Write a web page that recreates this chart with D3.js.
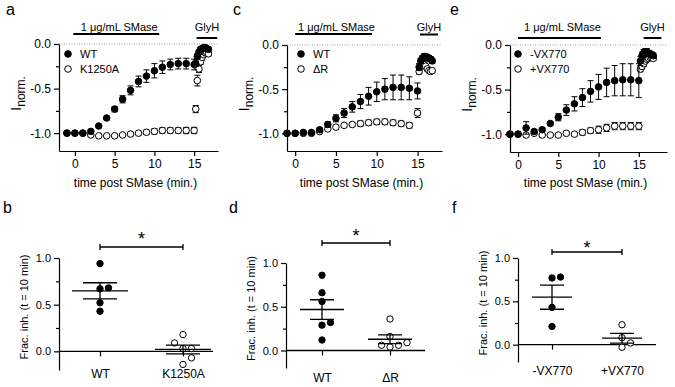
<!DOCTYPE html>
<html>
<head>
<meta charset="utf-8">
<script src="https://cdn.jsdelivr.net/npm/d3@7.9.0/dist/d3.min.js"></script>
<style>
  body { margin: 0; background: #fff; }
  svg { display: block; font-family: "Liberation Sans", Arial, sans-serif; }
</style>
</head>
<body>
<svg id="fig" width="675" height="387"></svg>
<script>
// ---- time course data (normalised current), one value per minute ----
const minutes = [-1, 0, 1, 2, 3, 4, 5, 6, 7, 8, 9, 10, 11, 12, 13, 14, 15];
const glyhMinutes = [15.2, 15.4, 15.6, 15.8, 16.0, 16.2, 16.4, 16.6, 16.8];
const timeTicks = [0, 5, 10, 15];
const currentTicks = [0, -0.5, -1];
const currentMinor = [-0.25, -0.75];

// panel a
const wtA = [-1.0, -1.0, -1.0, -0.98, -0.92, -0.83, -0.73, -0.62, -0.52, -0.42, -0.36, -0.3, -0.26, -0.23, -0.22, -0.22, -0.23];
const wtAErr = [0.01, 0.01, 0.01, 0.01, 0.01, 0.015, 0.03, 0.04, 0.05, 0.06, 0.07, 0.08, 0.07, 0.06, 0.06, 0.06, 0.06];
const wtAGlyh = [-0.22, -0.14, -0.09, -0.06, -0.05, -0.04, -0.04, -0.05, -0.06];
const wtAGlyhErr = [0.03, 0.03, 0.02, 0.02, 0.02, 0.02, 0.02, 0.02, 0.02];
const k1250A = [-1.0, -1.0, -1.0, -1.02, -1.03, -1.03, -1.03, -1.02, -1.01, -1.0, -0.99, -0.98, -0.97, -0.97, -0.97, -0.97, -0.97];
const k1250AErr = [0.01, 0.01, 0.01, 0.01, 0.01, 0.01, 0.01, 0.015, 0.02, 0.02, 0.025, 0.03, 0.03, 0.03, 0.03, 0.035, 0.035];
const k1250AGlyh = [-0.73, -0.41, -0.28, -0.2, -0.15, -0.12, -0.1, -0.1, -0.11];
const k1250AGlyhErr = [0.04, 0.06, 0.04, 0.03, 0.03, 0.02, 0.02, 0.02, 0.02];
const smaseA = [-0.2, 10.6];
const glyhA = [15.3, 17.9];

// panel c
const wtC = [-1.0, -1.0, -0.99, -0.99, -0.96, -0.9, -0.83, -0.77, -0.7, -0.64, -0.58, -0.53, -0.5, -0.48, -0.48, -0.49, -0.52];
const wtCErr = [0.01, 0.01, 0.01, 0.01, 0.02, 0.03, 0.04, 0.05, 0.06, 0.08, 0.1, 0.11, 0.12, 0.14, 0.14, 0.13, 0.09];
const wtCGlyh = [-0.25, -0.18, -0.15, -0.13, -0.13, -0.14, -0.15, -0.16, -0.18];
const wtCGlyhErr = [0.04, 0.03, 0.03, 0.03, 0.03, 0.03, 0.03, 0.03, 0.03];
const deltaR = [-1.0, -1.0, -1.0, -1.0, -0.98, -0.95, -0.93, -0.91, -0.9, -0.89, -0.88, -0.87, -0.87, -0.88, -0.89, -0.91, -0.77];
const deltaRErr = [0.01, 0.01, 0.01, 0.01, 0.01, 0.02, 0.02, 0.02, 0.02, 0.03, 0.03, 0.03, 0.03, 0.03, 0.03, 0.03, 0.05];
const deltaRGlyh = [-0.3, -0.24, -0.21, -0.22, -0.24, -0.27, -0.29, -0.3, -0.29];
const deltaRGlyhErr = [0.03, 0.03, 0.02, 0.02, 0.02, 0.02, 0.02, 0.02, 0.02];
const smaseC = [0, 9.4];
const glyhC = [15.3, 17.5];

// panel e
const minusVX = [-1.0, -1.0, -0.93, -0.97, -0.95, -0.88, -0.81, -0.73, -0.66, -0.59, -0.52, -0.47, -0.42, -0.4, -0.39, -0.39, -0.4];
const minusVXErr = [0.01, 0.01, 0.07, 0.02, 0.02, 0.02, 0.04, 0.06, 0.08, 0.1, 0.12, 0.14, 0.16, 0.17, 0.18, 0.18, 0.19];
const minusVXGlyh = [-0.18, -0.12, -0.09, -0.08, -0.08, -0.09, -0.1, -0.11, -0.12];
const minusVXGlyhErr = [0.05, 0.04, 0.04, 0.04, 0.04, 0.03, 0.03, 0.03, 0.03];
const plusVX = [-1.0, -1.0, -1.01, -0.99, -1.01, -1.01, -1.01, -0.99, -1.0, -0.98, -0.96, -0.95, -0.93, -0.91, -0.91, -0.91, -0.91];
const plusVXErr = [0.01, 0.01, 0.01, 0.01, 0.01, 0.01, 0.01, 0.02, 0.02, 0.03, 0.03, 0.04, 0.04, 0.04, 0.04, 0.04, 0.04];
const plusVXGlyh = [-0.27, -0.24, -0.21, -0.18, -0.16, -0.15, -0.14, -0.14, -0.15];
const plusVXGlyhErr = [0.03, 0.03, 0.03, 0.02, 0.02, 0.02, 0.02, 0.02, 0.02];
const smaseE = [0, 10.3];
const glyhE = [15.6, 17.8];

// ---- fractional inhibition at t = 10 min, one value per cell ----
const fracTicks = [0, 0.5, 1];
const fracMinor = [0.25, 0.75];
const fracWT_b = [0.94, 0.68, 0.67, 0.52, 0.43];
const fracK1250A = [0.18, 0.09, 0.03, 0.03, -0.07, -0.14];
const fracWT_d = [0.86, 0.66, 0.56, 0.32, 0.29, 0.12];
const fracDeltaR = [0.36, 0.16, 0.09, 0.06, 0.06, 0.04];
const fracMinusVX = [0.78, 0.77, 0.43, 0.21];
const fracPlusVX = [0.23, 0.08, 0.02, -0.03];

const svg = d3.select("#fig");
const R = 3.3;

function styleAxis(sel, fs) {
  sel.attr("font-family", null).attr("font-size", fs);
  sel.selectAll("path, line").attr("stroke-width", 1.2);
}

function panelLetter(txt, x, y) {
  svg.append("text").attr("x", x).attr("y", y).attr("font-size", 16).text(txt);
}

// time course panels
function drawTimeCourse(p) {
  const g = svg.append("g");
  const x = d3.scaleLinear().domain(p.xDomain).range(p.xRange);
  const y = d3.scaleLinear().domain([-1.2, 0]).range(p.yRange);

  // dotted zero line
  g.append("line")
    .attr("x1", p.xRange[0]).attr("x2", p.xRange[1])
    .attr("y1", y(0)).attr("y2", y(0))
    .attr("stroke", "#a0a0a0").attr("stroke-dasharray", "1,1.5");

  g.append("g")
    .attr("transform", `translate(0,${p.yRange[0]})`)
    .call(d3.axisBottom(x).tickValues(timeTicks).tickSize(5).tickSizeOuter(0).tickPadding(3.5))
    .call((s) => styleAxis(s, 12));

  g.append("g")
    .attr("transform", `translate(${p.xRange[0]},0)`)
    .call(d3.axisLeft(y).tickValues(currentTicks).tickFormat((d) => d.toFixed(1)).tickSize(5).tickSizeOuter(0).tickPadding(3))
    .call((s) => styleAxis(s, 12));

  g.append("g")
    .attr("transform", `translate(${p.xRange[0]},0)`)
    .call(d3.axisLeft(y).tickValues(currentMinor).tickFormat("").tickSize(3).tickSizeOuter(0))
    .call((s) => { s.select(".domain").remove(); styleAxis(s, 12); });

  // axis titles
  g.append("text")
    .attr("x", (p.xRange[0] + p.xRange[1]) / 2 - 3)
    .attr("y", 187)
    .attr("text-anchor", "middle")
    .attr("font-size", 12)
    .text("time post SMase (min.)");

  const yl = g.append("text")
    .attr("transform", `translate(${p.xRange[0] - 38},${(p.yRange[0] + p.yRange[1]) / 2 - 4}) rotate(-90)`)
    .attr("text-anchor", "middle");
  yl.append("tspan").attr("font-size", 15).text("I");
  yl.append("tspan").attr("font-size", 12).attr("dy", 3.5).text("norm.");

  // treatment bars
  g.append("line")
    .attr("x1", x(p.smase[0])).attr("x2", x(p.smase[1]))
    .attr("y1", p.smaseY).attr("y2", p.smaseY)
    .attr("stroke", "#000").attr("stroke-width", 2);
  g.append("text")
    .attr("x", (x(p.smase[0]) + x(p.smase[1])) / 2 + 3)
    .attr("y", 31)
    .attr("text-anchor", "middle")
    .attr("font-size", 11)
    .text("1 μg/mL SMase");
  g.append("line")
    .attr("x1", x(p.glyh[0])).attr("x2", x(p.glyh[1]))
    .attr("y1", p.glyhY).attr("y2", p.glyhY)
    .attr("stroke", "#000").attr("stroke-width", 2);
  g.append("text")
    .attr("x", (x(p.glyh[0]) + x(p.glyh[1])) / 2)
    .attr("y", 31)
    .attr("text-anchor", "middle")
    .attr("font-size", 11)
    .text("GlyH");

  // series: open first, filled on top
  p.series.forEach((s) => {
    const pts = minutes
      .map((t, i) => ({ t, v: s.values[i], e: s.err[i] }))
      .concat(glyhMinutes.map((t, i) => ({ t, v: s.glyh[i], e: s.glyhErr[i] })));
    const sg = g.append("g");
    sg.append("g")
      .attr("stroke", "#000").attr("stroke-width", 1).attr("fill", "none")
      .selectAll("path")
      .data(pts)
      .join("path")
      .attr("d", (d) => {
        const cx = x(d.t), y0 = y(d.v - d.e), y1 = y(d.v + d.e);
        return `M${cx},${y0}V${y1}M${cx - 3},${y0}h6M${cx - 3},${y1}h6`;
      });
    sg.append("g")
      .selectAll("circle")
      .data(pts)
      .join("circle")
      .attr("cx", (d) => x(d.t))
      .attr("cy", (d) => y(d.v))
      .attr("r", R)
      .attr("fill", s.filled ? "#000" : "#fff")
      .attr("stroke", "#000")
      .attr("stroke-width", 1);
  });

  // legend
  p.legend.forEach((s, i) => {
    const ly = 54 + i * 15;
    g.append("circle")
      .attr("cx", p.legendX).attr("cy", ly).attr("r", R)
      .attr("fill", s.filled ? "#000" : "#fff").attr("stroke", "#000");
    g.append("text")
      .attr("x", p.legendX + 12).attr("y", ly + 4)
      .attr("font-size", 11)
      .text(s.name);
  });
}

// simple dodge so overlapping dots sit side by side
function dodge(values, y, cx, step) {
  const placed = [];
  return values.slice().sort((a, b) => a - b).map((v) => {
    const py = y(v);
    for (const k of [0, 1, -1, 2, -2, 3, -3]) {
      const px = cx + k * step;
      if (placed.every((q) => Math.hypot(q.x - px, q.y - py) >= 2 * R + 0.5)) {
        const pt = { x: px, y: py };
        placed.push(pt);
        return pt;
      }
    }
  });
}

// scatter + mean ± SEM panels
function drawScatter(p) {
  const g = svg.append("g");
  const y = d3.scaleLinear().domain([-0.2, 1]).range(p.yRange);
  const x = d3.scalePoint().domain(p.groups.map((d) => d.name)).range(p.catRange);
  const y0 = y(0);

  g.append("line")
    .attr("x1", p.axisX).attr("x2", p.zeroEnd)
    .attr("y1", y0).attr("y2", y0)
    .attr("stroke", "#000").attr("stroke-width", 1.3);

  g.append("g")
    .attr("transform", `translate(0,${y0})`)
    .call(d3.axisBottom(x).tickSize(5).tickSizeOuter(0).tickPadding(p.labelBase - y0 - 13.5))
    .call((s) => { s.select(".domain").remove(); styleAxis(s, 12); });

  g.append("g")
    .attr("transform", `translate(${p.axisX},0)`)
    .call(d3.axisLeft(y).tickValues(fracTicks).tickFormat((d) => d.toFixed(1)).tickSize(5).tickSizeOuter(0).tickPadding(3))
    .call((s) => styleAxis(s, 11));
  g.append("g")
    .attr("transform", `translate(${p.axisX},0)`)
    .call(d3.axisLeft(y).tickValues(fracMinor).tickFormat("").tickSize(3).tickSizeOuter(0))
    .call((s) => { s.select(".domain").remove(); styleAxis(s, 11); });

  g.append("text")
    .attr("transform", `translate(${p.axisX - 31},${(p.yRange[0] + p.yRange[1]) / 2 - 7}) rotate(-90)`)
    .attr("text-anchor", "middle")
    .attr("font-size", 11)
    .text("Frac. inh. (t = 10 min)");

  p.groups.forEach((grp) => {
    const cx = x(grp.name);
    const m = d3.mean(grp.values);
    const sem = d3.deviation(grp.values) / Math.sqrt(grp.values.length);
    const pts = dodge(grp.values, y, cx, 8.5);
    g.append("g")
      .selectAll("circle")
      .data(pts)
      .join("circle")
      .attr("cx", (d) => d.x).attr("cy", (d) => d.y).attr("r", 3.2)
      .attr("fill", grp.filled ? "#000" : "#fff")
      .attr("stroke", "#000").attr("stroke-width", 1);
    g.append("path")
      .attr("fill", "none").attr("stroke", "#000").attr("stroke-width", 1.3)
      .attr("d",
        `M${cx - p.meanHW},${y(m)}h${2 * p.meanHW}` +
        `M${cx},${y(m - sem)}V${y(m + sem)}` +
        `M${cx - p.semHW},${y(m - sem)}h${2 * p.semHW}` +
        `M${cx - p.semHW},${y(m + sem)}h${2 * p.semHW}`);
  });

  // significance bracket
  const [xa, xb] = p.catRange;
  g.append("path")
    .attr("fill", "none").attr("stroke", "#000").attr("stroke-width", 1.3)
    .attr("d", `M${xa},${p.bracketY - 3}v6M${xa},${p.bracketY}H${xb}M${xb},${p.bracketY - 3}v6`);
  g.append("text")
    .attr("x", (xa + xb) / 2).attr("y", p.starY + 0.58 * 18)
    .attr("text-anchor", "middle").attr("font-size", 18)
    .text("*");
}

drawTimeCourse({
  xDomain: [-2, 18], xRange: [59, 218], yRange: [151, 44],
  smase: smaseA, glyh: glyhA, smaseY: 34, glyhY: 38, legendX: 68,
  series: [
    { values: k1250A, err: k1250AErr, glyh: k1250AGlyh, glyhErr: k1250AGlyhErr, filled: false },
    { values: wtA, err: wtAErr, glyh: wtAGlyh, glyhErr: wtAGlyhErr, filled: true },
  ],
  legend: [{ name: "WT", filled: true }, { name: "K1250A", filled: false }],
});
drawTimeCourse({
  xDomain: [-1, 18], xRange: [287, 442], yRange: [151, 45],
  smase: smaseC, glyh: glyhC, smaseY: 34, glyhY: 34.5, legendX: 301,
  series: [
    { values: deltaR, err: deltaRErr, glyh: deltaRGlyh, glyhErr: deltaRGlyhErr, filled: false },
    { values: wtC, err: wtCErr, glyh: wtCGlyh, glyhErr: wtCGlyhErr, filled: true },
  ],
  legend: [{ name: "WT", filled: true }, { name: "ΔR", filled: false }],
});
drawTimeCourse({
  xDomain: [-1, 18.5], xRange: [510, 667], yRange: [152, 45],
  smase: smaseE, glyh: glyhE, smaseY: 38, glyhY: 38, legendX: 518,
  series: [
    { values: plusVX, err: plusVXErr, glyh: plusVXGlyh, glyhErr: plusVXGlyhErr, filled: false },
    { values: minusVX, err: minusVXErr, glyh: minusVXGlyh, glyhErr: minusVXGlyhErr, filled: true },
  ],
  legend: [{ name: "-VX770", filled: true }, { name: "+VX770", filled: false }],
});

drawScatter({
  axisX: 59, zeroEnd: 213, yRange: [370, 258], catRange: [100, 183],
  labelBase: 378, bracketY: 247, starY: 235, meanHW: 28, semHW: 17,
  groups: [{ name: "WT", values: fracWT_b, filled: true }, { name: "K1250A", values: fracK1250A, filled: false }],
});
drawScatter({
  axisX: 286, zeroEnd: 425, yRange: [368, 263], catRange: [322, 390],
  labelBase: 382, bracketY: 243, starY: 232, meanHW: 22, semHW: 12,
  groups: [{ name: "WT", values: fracWT_d, filled: true }, { name: "ΔR", values: fracDeltaR, filled: false }],
});
drawScatter({
  axisX: 518, zeroEnd: 656, yRange: [362, 258], catRange: [552, 622],
  labelBase: 375, bracketY: 252, starY: 243.5, meanHW: 20, semHW: 12,
  groups: [{ name: "-VX770", values: fracMinusVX, filled: true }, { name: "+VX770", values: fracPlusVX, filled: false }],
});

panelLetter("a", 6, 15);
panelLetter("c", 233, 15);
panelLetter("e", 450, 15);
panelLetter("b", 3, 213);
panelLetter("d", 229, 213);
panelLetter("f", 452, 213);
</script>
</body>
</html>
